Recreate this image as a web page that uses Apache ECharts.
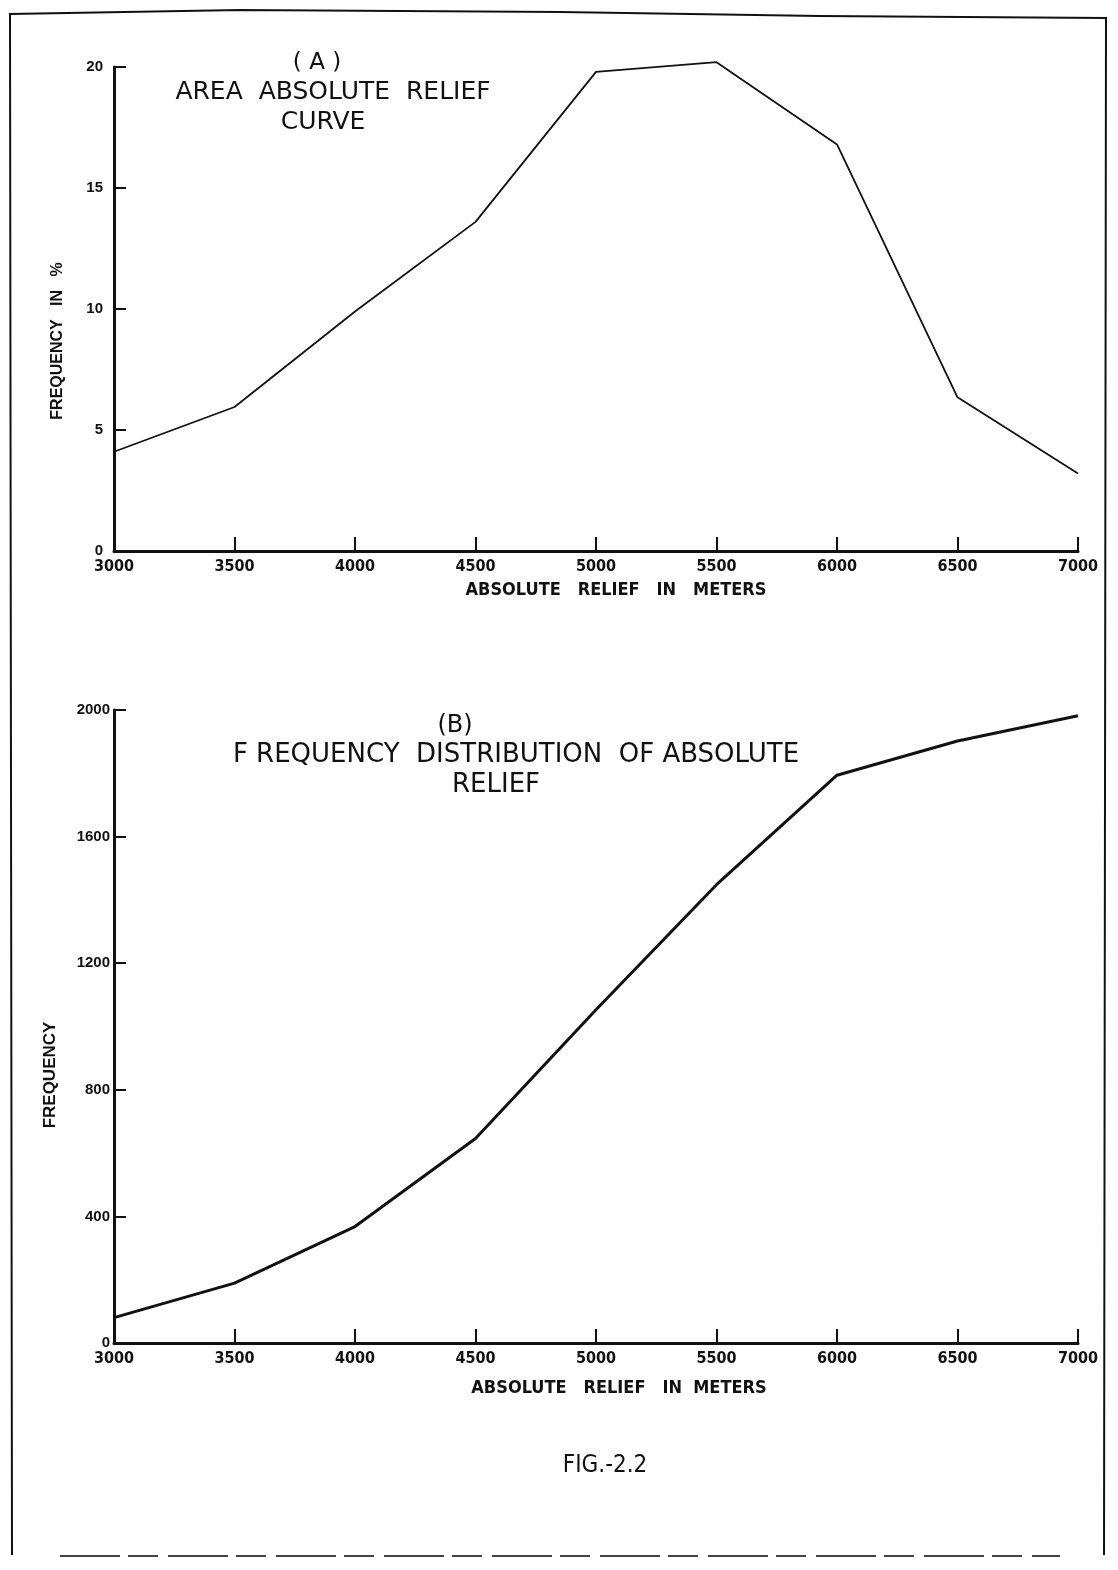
<!DOCTYPE html>
<html>
<head>
<meta charset="utf-8">
<script src="https://cdn.jsdelivr.net/npm/echarts@6/dist/echarts.min.js"></script>
<style>
  html, body { margin: 0; padding: 0; background: #fff; }
  #chart { width: 1118px; height: 1570px; }
</style>
</head>
<body>
<div id="chart"></div>
<script>
// relief classes (m), shared by both panels
const reliefClasses = ["3000", "3500", "4000", "4500", "5000", "5500", "6000", "6500", "7000"];
// (A) area absolute relief curve, frequency in %
const areaPercent = [4.1, 5.95, 9.9, 13.6, 19.8, 20.2, 16.8, 6.35, 3.2];
// (B) frequency distribution of absolute relief
const frequency = [80, 189, 368, 646, 1053, 1448, 1794, 1902, 1982];
// y-axis ranges
const yTicksA = { min: 0, max: 20, interval: 5 };
const yTicksB = { min: 0, max: 2000, interval: 400 };

const chart = echarts.init(document.getElementById("chart"));
const ink = "#111";
const narrow = "'DejaVu Sans Condensed', 'Liberation Sans', sans-serif";

const xAxisBase = (gridIndex) => ({
  gridIndex,
  type: "category",
  data: reliefClasses,
  boundaryGap: false,
  axisLine: { lineStyle: { color: ink, width: 3 } },
  axisTick: { inside: true, length: 14, lineStyle: { color: ink, width: 2 } },
  axisLabel: {
    color: ink, fontSize: 16, fontWeight: "bold", fontFamily: narrow,
    margin: 8, showMinLabel: true, showMaxLabel: true, interval: 0,
  },
  splitLine: { show: false },
});

const yAxisBase = (gridIndex, ticks, margin) => ({
  gridIndex,
  type: "value",
  ...ticks,
  axisLine: { show: true, lineStyle: { color: ink, width: 3 } },
  axisTick: { show: true, inside: true, length: 12, lineStyle: { color: ink, width: 2 } },
  axisLabel: {
    color: ink, fontSize: 15, fontWeight: "bold", fontFamily: "Liberation Sans", margin,
    formatter: (v) => String(v),
  },
  splitLine: { show: false },
});

// centred text helper for the graphic layer
const label = (text, x, y, font, rotation = 0) => ({
  type: "text", x, y, rotation,
  style: { text, font, fill: ink, align: "center", verticalAlign: "middle" },
});

chart.setOption({
  backgroundColor: "#fff",
  animation: false,
  grid: [
    { left: 114, right: 40, top: 67, height: 484 },
    { left: 114, right: 40, top: 710, height: 633 },
  ],
  xAxis: [xAxisBase(0), xAxisBase(1)],
  yAxis: [yAxisBase(0, yTicksA, 11), yAxisBase(1, yTicksB, 4)],
  series: [
    {
      type: "line", xAxisIndex: 0, yAxisIndex: 0, data: areaPercent, clip: false,
      symbol: "none", lineStyle: { color: ink, width: 1.8 },
    },
    {
      type: "line", xAxisIndex: 1, yAxisIndex: 1, data: frequency, clip: false,
      symbol: "none", lineStyle: { color: ink, width: 3 },
    },
  ],
  graphic: [
    // page frame
    {
      type: "polyline",
      shape: { points: [[12, 1555], [10, 14], [240, 10], [560, 12], [820, 16], [1106, 18], [1104, 1555]] },
      style: { stroke: ink, lineWidth: 2, fill: null },
    },
    {
      type: "line",
      shape: { x1: 60, y1: 1556, x2: 1060, y2: 1556 },
      style: { stroke: "#444", lineWidth: 2, lineDash: [60, 8, 30, 10] },
    },
    // panel A
    label("( A )", 317, 63, "23px 'DejaVu Sans'"),
    label("AREA  ABSOLUTE  RELIEF", 333, 92, "25px 'DejaVu Sans'"),
    label("CURVE", 323, 122, "25px 'DejaVu Sans'"),
    label("ABSOLUTE   RELIEF   IN   METERS", 616, 590, "bold 18px " + narrow),
    label("FREQUENCY   IN   %", 58, 341, "bold 16px 'Liberation Sans'", Math.PI / 2),
    // panel B
    label("(B)", 455, 726, "24px 'DejaVu Sans'"),
    label("F REQUENCY  DISTRIBUTION  OF ABSOLUTE", 516, 755, "26px 'DejaVu Sans'"),
    label("RELIEF", 496, 785, "26px 'DejaVu Sans'"),
    label("ABSOLUTE   RELIEF   IN  METERS", 619, 1388, "bold 18px " + narrow),
    label("FREQUENCY", 50, 1075, "bold 17px 'Liberation Sans'", Math.PI / 2),
    // figure number
    label("FIG.-2.2", 605, 1466, "24px 'DejaVu Sans Condensed'"),
  ],
});
</script>
</body>
</html>
